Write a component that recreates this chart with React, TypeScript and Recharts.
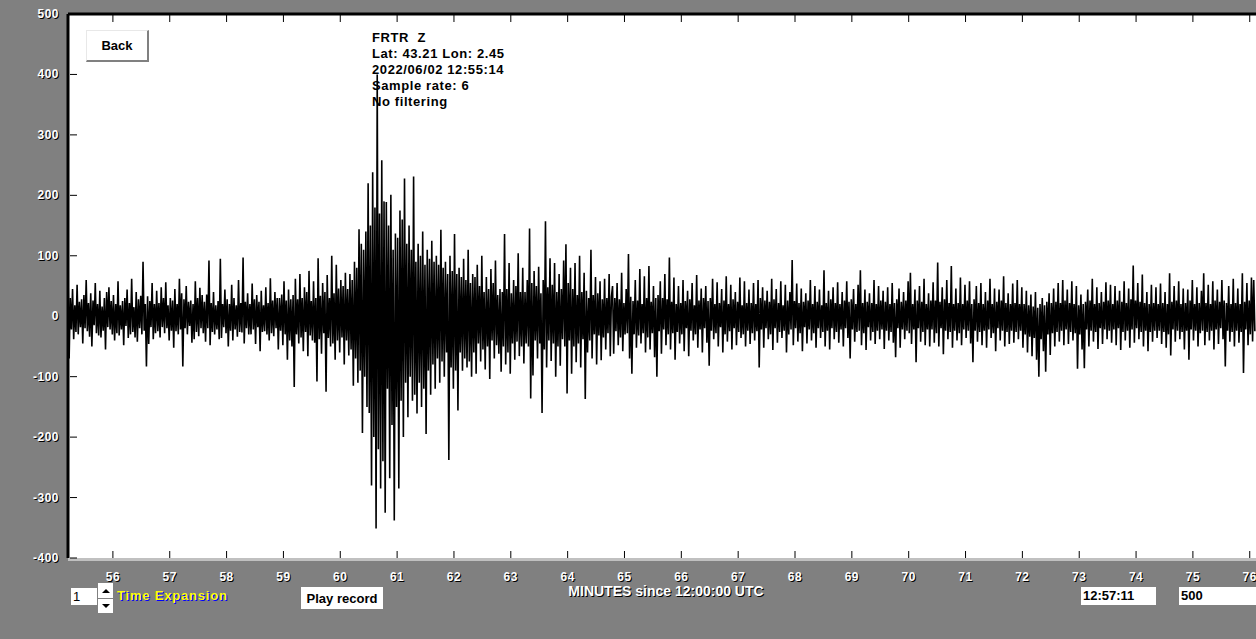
import React from "react";
import { LineChart, Line, XAxis, YAxis, CartesianGrid, ReferenceLine } from "recharts";

// seismogram samples (counts), one every T_STEP minutes
const T_START = 55.21;
const T_STEP = 0.02;

const TRACE_PRE = [
  76, -70, 30, -22, 45, -38, 18, -26, 52, -30, 24, -18, 28, -45, 35, -20, 60, -25, 22, -34,
  38, -50, 26, -15, 55, -28, 20, -32, 42, -35, 16, -24, 30, -55, 40, -18, 48, -22, 25, -30,
  35, -40, 20, -28, 58, -32, 18, -22, 25, -48, 30, -16, 44, -36, 22, -30, 62, -26, 15, -35,
  40, -42, 28, -20, 34, -30, 90, -24, 20, -83, 33, -46, 25, -18, 55, -38, 20, -28, 42, -25,
  22, -35, 48, -18, 30, -28, 56, -20, 18, -40, 30, -24, 26, -52, 45, -25, 20, -30, 62, -22,
  38, -83, 28, -20, 50, -30, 24, -16, 26, -44, 20, -38, 58, -26, 30, -33, 47, -20, 35, -28,
  24, -42, 36, -20, 92, -48, 22, -26, 40, -30, 18, -22, 25, -38, 95, -36, 20, -18, 44, -28,
  28, -50, 20, -24, 52, -40, 30, -22, 18, -34, 60, -26, 22, -27, 97, -45, 24, -20, 38, -30,
  20, -30, 54, -22, 28, -46, 35, -18, 24, -58, 42, -26, 18, -25, 48, -30, 22, -40, 63, -28,
  26, -33, 40, -20, 30, -55, 30, -24, 36, -48, 58, -30, 26, -72, 44, -40, 28, -50, 35, -117,
  62, -30, 28, -45, 70, -35, 30, -58, 48, -26, 40, -66, 75, -32, 25, -40, 58, -44, 30, -108,
  96, -38, 34, -62, 55, -28, 40, -125, 68, -36, 30, -50, 100, -45, 38, -72, 85, -40, 46, -60,
];

const TRACE_EVENT = [
  60, -35, 50, -80, 72, -40, 45, -65, 70, -55, 60, -115, 90, -70, 80, -110, 144, -90, 120, -193,
  110, -100, 140, -150, 220, -160, 150, -280, 238, -200, 180, -351, 400, -220, 170, -285, 258, -240, 190, -325,
  189, -120, 150, -268, 201, -180, 110, -338, 137, -150, 130, -285, 175, -140, 160, -200, 228, -110, 120, -167,
  150, -100, 110, -140, 231, -130, 90, -161, 120, -110, 100, -150, 140, -120, 85, -195, 110, -90, 95, -130,
  125, -80, 90, -120, 100, -70, 85, -110, 143, -75, 80, -100, 90, -60, 70, -238, 100, -85, 75, -120,
  136, -90, 70, -156, 80, -60, 65, -90, 95, -70, 60, -85, 110, -75, 55, -100, 70, -60, 65, -95,
];

const TRACE_CODA = [
  85, -45, 50, -75, 100, -55, 40, -88, 65, -50, 45, -104, 78, -40, 55, -70, 92, -48, 35, -62,
  45, -92, 40, -50, 136, -80, 45, -60, 88, -95, 38, -45, 60, -72, 50, -42, 104, -66, 40, -50,
  80, -78, 40, -45, 60, -50, 145, -136, 55, -98, 75, -40, 50, -70, 82, -45, 38, -160, 60, -55,
  157, -85, 48, -40, 96, -74, 52, -45, 88, -100, 40, -50, 70, -82, 45, -38, 92, -50, 119, -128,
  55, -40, 80, -95, 45, -50, 88, -76, 35, -45, 100, -85, 40, -38, 72, -137, 42, -60, 30, -40,
  110, -70, 35, -30, 65, -80, 38, -32, 58, -73, 28, -35, 62, -55, 30, -28, 70, -66, 32, 50,
];

const TRACE_TAIL = [
  -62, 30, -25, 55, -48, 28, -35, 72, -58, 22, -30, 45, -28, 103, -70, 32, -95, 25, -30, 60,
  -52, 26, -32, 78, -45, 20, -28, 66, -60, 30, -35, 83, -55, 24, -28, 50, -68, 30, -100, 35,
  -25, 58, -62, 30, -22, 70, -48, 28, -30, 97, -55, 24, -28, 64, -72, 20, -26, 50, -45, 22,
  -30, 60, -58, 25, -20, 42, -66, 28, -24, 55, -40, 18, -30, 68, -52, 26, -22, 46, -60, 30,
  -20, 50, -44, 25, -82, 30, -24, 62, -38, 20, -28, 56, -50, 22, -18, 45, -60, 26, -30, 66,
  -42, 20, -25, 52, -55, 28, -20, 40, -48, 24, -26, 64, -36, 18, -30, 58, -50, 22, -24, 44,
  -46, 22, -28, 55, -40, 20, -25, 60, -85, 30, -22, 48, -52, 26, -20, 42, -38, 24, -30, 62,
  -56, 28, -20, 45, -44, 22, -26, 58, -36, 18, -24, 52, -60, 26, -30, 40, -22, 93, -48, 25,
  -20, 54, -42, 22, -28, 46, -58, 24, -18, 38, -45, 26, -22, 60, -40, 20, -28, 50, -52, 24,
  -20, 44, -36, 18, -26, 76, -50, 22, -24, 42, -55, 28, -20, 48, -38, 22, -26, 56, -44, 20,
  -22, 40, -50, 26, -20, 58, -36, 24, -70, 28, -22, 45, -42, 20, -26, 52, -24, 76, -48, 22,
  -28, 44, -56, 24, -18, 38, -40, 22, -26, 60, -46, 20, -24, 50, -38, 26, -22, 42, -54, 24,
  -24, 48, -40, 20, -26, 55, -44, 22, -68, 28, -20, 46, -52, 24, -22, 40, -38, 26, -24, 58,
  -28, 72, -46, 20, -22, 44, -76, 26, -20, 50, -42, 24, -26, 62, -48, 20, -22, 38, -50, 26,
  -22, 56, -44, 26, -28, 89, -50, 24, -20, 48, -63, 28, -24, 60, -38, 22, -26, 83, -52, 20,
  -24, 46, -40, 22, -28, 64, -48, 20, -22, 52, -36, 26, -24, 58, -45, 20, -76, 28, -24, 50,
  -42, 22, -26, 55, -48, 20, -24, 40, -52, 26, -22, 62, -36, 20, -28, 46, -58, 24, -20, 44,
  -40, 26, -24, 66, -50, 22, -26, 38, -46, 20, -24, 54, -44, 22, -26, 60, -38, 20, -24, 48,
  -52, 20, -30, 42, -60, 18, -34, 36, -66, 16, -36, 40, -72, 14, -100, 20, -38, 30, -58, 18,
  -92, 24, -30, 38, -64, 22, -28, 46, -50, 24, -26, 55, -42, 22, -24, 60, -48, 26, -22, 44,
  -46, 22, -26, 58, -40, 20, -28, 50, -87, 18, -30, 36, -55, 20, -86, 24, -22, 44, -50, 26,
  -24, 62, -42, 20, -26, 48, -54, 22, -20, 40, -46, 24, -22, 56, -38, 26, -24, 52, -44, 20,
  -22, 50, -48, 26, -20, 42, -56, 24, -26, 58, -40, 22, -24, 46, -52, 28, -22, 84, -44, 26,
  -20, 55, -38, 24, -26, 69, -50, 22, -24, 40, -58, 20, -26, 52, -42, 22, -24, 48, -36, 20,
  -24, 54, -46, 22, -26, 40, -52, 20, -30, 71, -65, 24, -22, 50, -42, 26, -24, 58, -38, 20,
  -26, 46, -55, 22, -24, 44, -72, 26, -22, 60, -40, 20, -24, 48, -50, 22, -28, 42, -24, 71,
  -48, 22, -26, 52, -40, 20, -24, 58, -55, 26, -22, 44, -46, 24, -20, 60, -38, 26, -83, 22,
  -24, 50, -42, 20, -26, 62, -50, 22, -24, 46, -44, 20, -26, 71, -94, 24, -22, 55, -48, 26,
  -30, 64, -42, 60, -25,
];

const X_DOMAIN: [number, number] = [55.21, 76.11];
const X_TICKS = [56, 57, 58, 59, 60, 61, 62, 63, 64, 65, 66, 67, 68, 69, 70, 71, 72, 73, 74, 75, 76];
const Y_DOMAIN: [number, number] = [-400, 500];
const Y_TICKS = [500, 400, 300, 200, 100, 0, -100, -200, -300, -400];

const INFO_LINES = ["FRTR  Z", "Lat: 43.21 Lon: 2.45", "2022/06/02 12:55:14", "Sample rate: 6", "No filtering"];
const X_TITLE = "MINUTES since 12:00:00 UTC";

const data = [...TRACE_PRE, ...TRACE_EVENT, ...TRACE_CODA, ...TRACE_TAIL].map((v, i) => ({
  t: +(T_START + i * T_STEP).toFixed(2),
  v,
}));

const FONT = '"Liberation Sans", Arial, sans-serif';
const PLOT_TOP = 14;
const PLOT_BOTTOM = 558;

function ShadowText({ x, y, text, anchor }: { x: number; y: number; text: string; anchor: "start" | "middle" | "end" }) {
  const common = { fontFamily: FONT, fontWeight: 700, fontSize: 12, textAnchor: anchor, letterSpacing: 0.5 } as any;
  return (
    <g>
      <text x={x + 1} y={y + 1} fill="#000" {...common}>{text}</text>
      <text x={x} y={y} fill="#fff" {...common}>{text}</text>
    </g>
  );
}

function XTick(props: any) {
  const { x, payload } = props;
  return (
    <g>
      <line x1={x} x2={x} y1={PLOT_TOP + 1} y2={PLOT_TOP + 8} stroke="#000" />
      <line x1={x} x2={x} y1={PLOT_BOTTOM - 7} y2={PLOT_BOTTOM} stroke="#000" />
      <ShadowText x={x} y={581} anchor="middle" text={String(payload.value)} />
    </g>
  );
}

function YTick(props: any) {
  const { y, payload } = props;
  return (
    <g>
      <line x1={70} x2={77} y1={y} y2={y} stroke="#000" />
      <ShadowText x={59} y={y + 4} anchor="end" text={String(payload.value)} />
    </g>
  );
}

const box: React.CSSProperties = {
  position: "absolute",
  background: "#fff",
  fontFamily: FONT,
  fontWeight: 700,
  fontSize: 13,
  color: "#000",
  boxSizing: "border-box",
};

export default function App() {
  return (
    <div style={{ position: "fixed", left: 0, top: 0, width: 1256, height: 639, background: "#808080", overflow: "hidden" }}>
      <div style={{ position: "absolute", left: 68, top: 558, width: 1188, height: 3, background: "#c0c0c0" }} />
      <div style={{ position: "absolute", left: 0, top: 0 }}>
        <LineChart width={1256} height={600} data={data} margin={{ top: PLOT_TOP, right: 0, bottom: 0, left: 0 }}>
          <CartesianGrid horizontal={false} vertical={false} fill="#ffffff" />
          <XAxis
            dataKey="t"
            type="number"
            domain={X_DOMAIN}
            ticks={X_TICKS}
            interval={0}
            allowDataOverflow
            height={42}
            axisLine={false}
            tickLine={false}
            tick={<XTick />}
          />
          <YAxis
            type="number"
            domain={Y_DOMAIN}
            ticks={Y_TICKS}
            interval={0}
            allowDataOverflow
            width={68}
            axisLine={{ stroke: "#000", strokeWidth: 3 }}
            tickLine={false}
            tick={<YTick />}
          />
          <ReferenceLine y={500} stroke="#000" strokeWidth={3} />
          <Line type="linear" dataKey="v" stroke="#000" strokeWidth={1.6} dot={false} isAnimationActive={false} />
        </LineChart>
      </div>

      <div
        style={{
          ...box,
          left: 86,
          top: 30,
          width: 63,
          height: 32,
          borderTop: "1px solid #e8e8e8",
          borderLeft: "1px solid #e8e8e8",
          borderRight: "2px solid #808080",
          borderBottom: "2px solid #808080",
          display: "flex",
          alignItems: "center",
          justifyContent: "center",
        }}
      >
        Back
      </div>

      <div style={{ position: "absolute", left: 372, top: 30, fontFamily: FONT, fontWeight: 700, fontSize: 13, lineHeight: "16px", letterSpacing: 0.6, color: "#000", whiteSpace: "pre" }}>
        {INFO_LINES.map((l) => (
          <div key={l}>{l}</div>
        ))}
      </div>

      <div style={{ ...box, left: 71, top: 588, width: 26, height: 17, paddingLeft: 2, lineHeight: "17px", fontWeight: 400 }}>1</div>
      <div style={{ ...box, left: 98, top: 583, width: 15, height: 15, display: "flex", alignItems: "center", justifyContent: "center" }}>
        <div style={{ width: 0, height: 0, borderLeft: "4px solid transparent", borderRight: "4px solid transparent", borderBottom: "4px solid #000" }} />
      </div>
      <div style={{ ...box, left: 98, top: 599, width: 15, height: 14, display: "flex", alignItems: "center", justifyContent: "center" }}>
        <div style={{ width: 0, height: 0, borderLeft: "4px solid transparent", borderRight: "4px solid transparent", borderTop: "4px solid #000" }} />
      </div>
      <div style={{ position: "absolute", left: 117, top: 588, fontFamily: FONT, fontWeight: 700, fontSize: 13, lineHeight: "16px", letterSpacing: 0.8, color: "#ffff00", textShadow: "1px 1px 0 #0000ff" }}>
        Time Expansion
      </div>

      <div style={{ ...box, left: 301, top: 587, width: 82, height: 22, display: "flex", alignItems: "center", justifyContent: "center" }}>Play record</div>

      <div style={{ position: "absolute", left: 466, width: 400, top: 583, textAlign: "center", fontFamily: FONT, fontWeight: 700, fontSize: 14, lineHeight: "16px", color: "#fff", textShadow: "1px 1px 0 #000" }}>
        {X_TITLE}
      </div>

      <div style={{ ...box, left: 1081, top: 587, width: 75, height: 18, paddingLeft: 2, lineHeight: "18px" }}>12:57:11</div>
      <div style={{ ...box, left: 1179, top: 587, width: 77, height: 18, paddingLeft: 2, lineHeight: "18px" }}>500</div>
    </div>
  );
}
